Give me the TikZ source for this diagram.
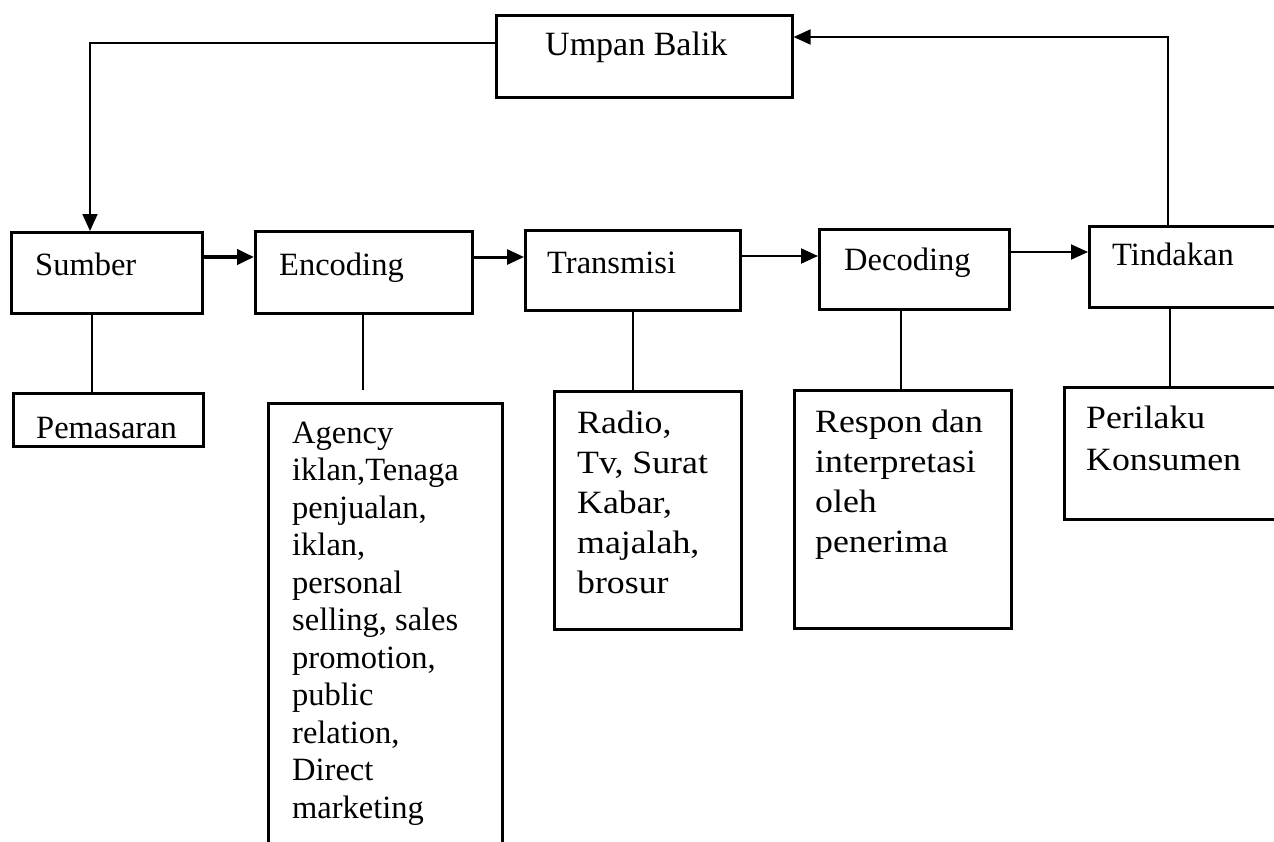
\documentclass[tikz,border=0pt]{standalone}
\usepackage{fontspec}
\setmainfont{Liberation Serif}
\newfontfamily\widefont[FakeStretch=1.1]{Liberation Serif}
\usetikzlibrary{arrows.meta}
\begin{document}
\begin{tikzpicture}[x=1pt,y=-1pt,
  box/.style={draw, line width=2.6pt, inner sep=0pt, anchor=north west},
  lbl/.style={inner sep=0pt, anchor=base west, font=\fontsize{32.5}{37.5}\selectfont},
  para/.style={inner sep=0pt, anchor=north west, align=left},
  conn/.style={line width=2pt},
  arr/.style={-{Triangle[length=17pt,width=15pt]}}
]
\useasboundingbox (0,0) rectangle (1274,841);
\clip (0,0) rectangle (1274,841);
\fill[white] (0,0) rectangle (1274,841);

% boxes
\node[box, minimum width=296pt, minimum height=82pt] (ub) at (495,14) {};
\node[box, line width=3pt, minimum width=191pt, minimum height=81pt] (sumber) at (10,231) {};
\node[box, minimum width=217pt, minimum height=82pt] (enc) at (254,230) {};
\node[box, minimum width=215pt, minimum height=80pt] (trans) at (524,229) {};
\node[box, line width=3.2pt, minimum width=190pt, minimum height=80pt] (dec) at (818,228) {};
\node[box, minimum width=220pt, minimum height=81pt] (tind) at (1088,225) {};
\node[box, minimum width=190pt, minimum height=53pt] (pem) at (12,392) {};
\node[box, minimum width=234pt, minimum height=500pt] (agency) at (267,402) {};
\node[box, minimum width=187pt, minimum height=238pt] (radio) at (553,390) {};
\node[box, minimum width=217pt, minimum height=238pt] (respon) at (793,389) {};
\node[box, minimum width=227pt, minimum height=132pt] (peri) at (1063,386) {};

% texts
\node[lbl, font=\fontsize{34}{40}\selectfont] (tub) at (545,55) {Umpan Balik};
\node[lbl] (tsumber) at (35,275) {Sumber};
\node[lbl] (tenc) at (279,275) {Encoding};
\node[lbl] (ttrans) at (547,273) {Transmisi};
\node[lbl] (tdec) at (844,270) {Decoding};
\node[lbl] (ttind) at (1112,265) {Tindakan};
\node[lbl] (tpem) at (36,438) {Pemasaran};
\node[para, font=\fontsize{32.5}{37.5}\selectfont] (tagency) at (292,421.5)
  {Agency\\iklan,Tenaga\\penjualan,\\iklan,\\personal\\selling, sales\\promotion,\\public\\relation,\\Direct\\marketing};
\node[para, font=\widefont\fontsize{32.5}{40}\selectfont] (tradio) at (577,411)
  {Radio,\\Tv, Surat\\Kabar,\\majalah,\\brosur};
\node[para, font=\widefont\fontsize{32.5}{40}\selectfont] (trespon) at (815,410)
  {Respon dan\\interpretasi\\oleh\\penerima};
\node[para, font=\widefont\fontsize{32.5}{42}\selectfont] (tperi) at (1086,406)
  {Perilaku\\Konsumen};

% vertical connectors
\coordinate (encend) at (363,390);
\draw[conn] ([xshift=82pt]sumber.south west) -- ([xshift=80pt]pem.north west);
\draw[conn] ([xshift=109pt]enc.south west) -- (encend);
\draw[conn] ([xshift=109pt]trans.south west) -- ([xshift=80pt]radio.north west);
\draw[conn] ([xshift=83pt]dec.south west) -- ([xshift=108pt]respon.north west);
\draw[conn] ([xshift=82pt]tind.south west) -- ([xshift=107pt]peri.north west);

% horizontal arrows
\draw[line width=4pt, arr] ([yshift=-26pt]sumber.north east) -- ([yshift=-27pt]enc.north west);
\draw[line width=3pt, arr] ([yshift=-27pt]enc.north east) -- ([yshift=-28pt]trans.north west);
\draw[line width=2pt, arr] ([yshift=-27pt]trans.north east) -- ([yshift=-28pt]dec.north west);
\draw[line width=2pt, arr] ([yshift=-24pt]dec.north east) -- ([yshift=-27pt]tind.north west);

% feedback
\draw[line width=1.8pt, arr] ([yshift=-29pt]ub.north west) -| ([xshift=80pt]sumber.north west);
\draw[line width=2pt, arr] ([xshift=80pt]tind.north west) |- ([yshift=-23pt]ub.north east);
\end{tikzpicture}
\end{document}
